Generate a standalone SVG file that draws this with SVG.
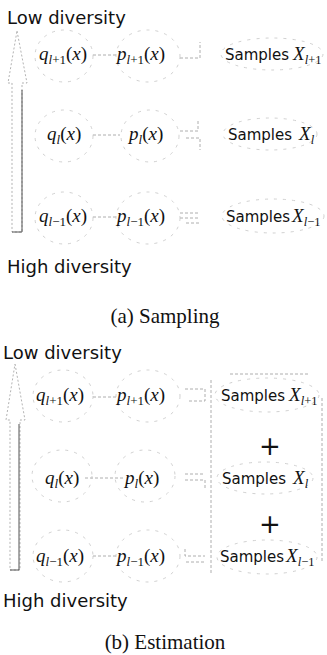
<svg xmlns="http://www.w3.org/2000/svg" width="327" height="655" viewBox="0 0 327 655">
<style>
.lbl{font-family:"DejaVu Sans",sans-serif;font-size:18px;fill:#111}
.smp{font-family:"DejaVu Sans",sans-serif;font-size:15px;fill:#111}
.m{font-family:"Liberation Serif",serif;font-size:19px;fill:#111}
.it{font-style:italic}
.sb{font-size:12.5px}
.cap{font-family:"Liberation Serif",serif;font-size:21px;fill:#111}
.plus{font-family:"DejaVu Sans",sans-serif;font-size:26px;fill:#111}
.el{fill:none;stroke:#c4c4c4;stroke-width:0.8;stroke-dasharray:3 6}
.ln{fill:none;stroke:#999;stroke-width:0.8;stroke-dasharray:3 2}
.ar{fill:none;stroke:#aaa;stroke-width:0.9;stroke-dasharray:2 2}
.ard{fill:none;stroke:#555;stroke-width:1}
</style>

<!-- Panel (a) -->
<text class="lbl" x="7" y="24">Low diversity</text>
<g id="arrow-a">
<polygon class="ar" points="17,31 27,83 22,83 22,232 12,232 12,83 8,83"/>
<path class="ard" d="M22,90 V232 H12"/>
</g>
<g id="connectors-a">
<path class="ln" d="M93,55 H116"/>
<path class="ln" d="M93,135 H120"/>
<path class="ln" d="M93,217 H116"/>
<path class="ln" d="M180,58 H200 V42"/>
<path class="ln" d="M180,131 H198 V120 M186,138 H200 V150"/>
<path class="ln" d="M180,213 H200 M180,218 H200 M186,223 H200"/>
</g>
<g id="q-a-1"><ellipse class="el" cx="64" cy="56" rx="29" ry="26"/><text class="m" x="39" y="60"><tspan class="it">q</tspan><tspan dy="4" font-size="13"><tspan class="it">l</tspan>+1</tspan><tspan dy="-4">(<tspan class="it">x</tspan>)</tspan></text></g>
<g id="p-a-1"><ellipse class="el" cx="148" cy="56" rx="32" ry="26"/><text class="m" x="117" y="60"><tspan class="it">p</tspan><tspan dy="4" font-size="13"><tspan class="it">l</tspan>+1</tspan><tspan dy="-4">(<tspan class="it">x</tspan>)</tspan></text></g>
<g id="s-a-1"><ellipse class="el" cx="272" cy="54" rx="51" ry="16"/><text x="225" y="60"><tspan class="smp">Samples</tspan><tspan class="m it" dx="4">X</tspan><tspan class="m sb" dy="4"><tspan class="it">l</tspan>+1</tspan></text></g>

<g id="q-a-2"><ellipse class="el" cx="64" cy="136" rx="29" ry="26"/><text class="m" x="47" y="140"><tspan class="it">q</tspan><tspan dy="4" font-size="13" class="it">l</tspan><tspan dy="-4">(<tspan class="it">x</tspan>)</tspan></text></g>
<g id="p-a-2"><ellipse class="el" cx="150" cy="136" rx="29" ry="26"/><text class="m" x="129" y="140"><tspan class="it">p</tspan><tspan dy="4" font-size="13" class="it">l</tspan><tspan dy="-4">(<tspan class="it">x</tspan>)</tspan></text></g>
<g id="s-a-2"><ellipse class="el" cx="270" cy="134" rx="47" ry="16"/><text x="228" y="140"><tspan class="smp">Samples</tspan><tspan class="m it" dx="7">X</tspan><tspan class="m it sb" dy="4">l</tspan></text></g>

<g id="q-a-3"><ellipse class="el" cx="64" cy="218" rx="29" ry="26"/><text class="m" x="39" y="222"><tspan class="it">q</tspan><tspan dy="4" font-size="13"><tspan class="it">l</tspan>−1</tspan><tspan dy="-4">(<tspan class="it">x</tspan>)</tspan></text></g>
<g id="p-a-3"><ellipse class="el" cx="148" cy="218" rx="32" ry="26"/><text class="m" x="117" y="222"><tspan class="it">p</tspan><tspan dy="4" font-size="13"><tspan class="it">l</tspan>−1</tspan><tspan dy="-4">(<tspan class="it">x</tspan>)</tspan></text></g>
<g id="s-a-3"><ellipse class="el" cx="273" cy="216" rx="51" ry="17"/><text x="226" y="222"><tspan class="smp">Samples</tspan><tspan class="m it" dx="2">X</tspan><tspan class="m sb" dy="4"><tspan class="it">l</tspan>−1</tspan></text></g>

<text class="lbl" x="7" y="273">High diversity</text>
<text class="cap" x="165" y="323" text-anchor="middle">(a) Sampling</text>

<!-- Panel (b) -->
<text class="lbl" x="3" y="359">Low diversity</text>
<g id="arrow-b">
<polygon class="ar" points="15,364 25,420 20,420 20,570 10,570 10,420 6,420"/>
<path class="ard" d="M19,424 V570 H10"/>
</g>
<g id="connectors-b">
<path class="ln" d="M93,397 H116"/>
<path class="ln" d="M85,478 H123"/>
<path class="ln" d="M93,556 H117"/>
<path class="ln" d="M185,389 H205 V401 H187"/>
<path class="ln" d="M185,474 H205 M185,480 H205 V489"/>
<path class="ln" d="M185,549 V556 H205 M186,562 H205"/>
<path class="ln" d="M211,380 V573"/>
<path class="ln" d="M322,398 V563"/>
<path class="ln" d="M230,374 H310"/>
</g>
<g id="q-b-1"><ellipse class="el" cx="63" cy="396" rx="30" ry="26"/><text class="m" x="36" y="401"><tspan class="it">q</tspan><tspan dy="4" font-size="13"><tspan class="it">l</tspan>+1</tspan><tspan dy="-4">(<tspan class="it">x</tspan>)</tspan></text></g>
<g id="p-b-1"><ellipse class="el" cx="148" cy="396" rx="32" ry="26"/><text class="m" x="117" y="401"><tspan class="it">p</tspan><tspan dy="4" font-size="13"><tspan class="it">l</tspan>+1</tspan><tspan dy="-4">(<tspan class="it">x</tspan>)</tspan></text></g>
<g id="s-b-1"><ellipse class="el" cx="267" cy="395" rx="52" ry="17"/><text x="221" y="401"><tspan class="smp">Samples</tspan><tspan class="m it" dx="4">X</tspan><tspan class="m sb" dy="4"><tspan class="it">l</tspan>+1</tspan></text></g>
<text class="plus" x="270" y="455" text-anchor="middle">+</text>

<g id="q-b-2"><ellipse class="el" cx="62" cy="476" rx="30" ry="26"/><text class="m" x="45" y="484"><tspan class="it">q</tspan><tspan dy="4" font-size="13" class="it">l</tspan><tspan dy="-4">(<tspan class="it">x</tspan>)</tspan></text></g>
<g id="p-b-2"><ellipse class="el" cx="145" cy="476" rx="30" ry="26"/><text class="m" x="125" y="484"><tspan class="it">p</tspan><tspan dy="4" font-size="13" class="it">l</tspan><tspan dy="-4">(<tspan class="it">x</tspan>)</tspan></text></g>
<g id="s-b-2"><ellipse class="el" cx="265" cy="478" rx="48" ry="16"/><text x="222" y="484"><tspan class="smp">Samples</tspan><tspan class="m it" dx="7">X</tspan><tspan class="m it sb" dy="4">l</tspan></text></g>
<text class="plus" x="270" y="533" text-anchor="middle">+</text>

<g id="q-b-3"><ellipse class="el" cx="63" cy="556" rx="30" ry="26"/><text class="m" x="36" y="562"><tspan class="it">q</tspan><tspan dy="4" font-size="13"><tspan class="it">l</tspan>−1</tspan><tspan dy="-4">(<tspan class="it">x</tspan>)</tspan></text></g>
<g id="p-b-3"><ellipse class="el" cx="148" cy="556" rx="32" ry="26"/><text class="m" x="117" y="562"><tspan class="it">p</tspan><tspan dy="4" font-size="13"><tspan class="it">l</tspan>−1</tspan><tspan dy="-4">(<tspan class="it">x</tspan>)</tspan></text></g>
<g id="s-b-3"><ellipse class="el" cx="267" cy="557" rx="50" ry="17"/><text x="220" y="562"><tspan class="smp">Samples</tspan><tspan class="m it" dx="2">X</tspan><tspan class="m sb" dy="4"><tspan class="it">l</tspan>−1</tspan></text></g>

<text class="lbl" x="3" y="607">High diversity</text>
<text class="cap" x="165" y="649" text-anchor="middle">(b) Estimation</text>
</svg>
